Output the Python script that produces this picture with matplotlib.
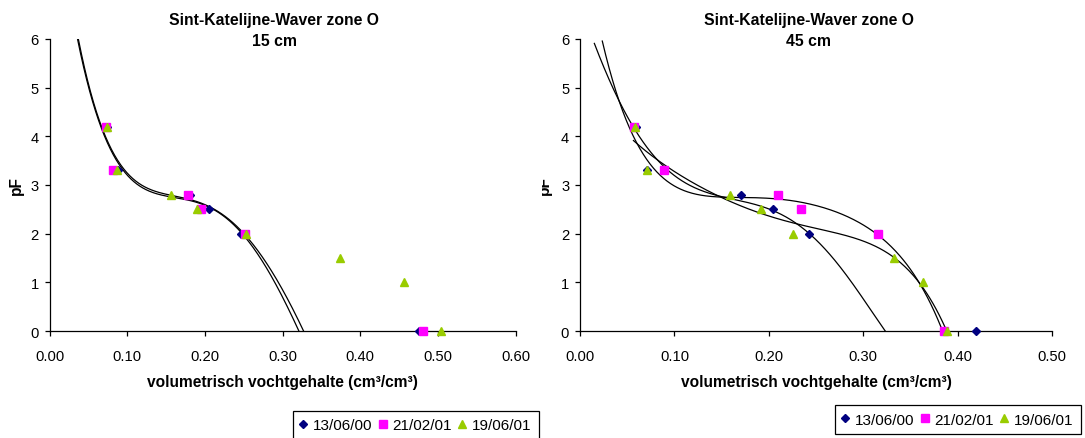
import numpy as np
import matplotlib.pyplot as plt
from matplotlib.transforms import Bbox

plt.rcParams['font.family'] = ['Liberation Sans', 'DejaVu Sans']

# meetdata pF-curves, Sint-Katelijne-Waver zone O
dates = ['13/06/00', '21/02/01', '19/06/01']
colors = ['#000080', '#FF00FF', '#99CC00']
markers = ['D', 's', '^']
msizes = [4.5, 5.3, 6.3]

pf_6 = [4.2, 3.3, 2.8, 2.5, 2.0, 0.0]
pf_8 = [4.2, 3.3, 2.8, 2.5, 2.0, 1.5, 1.0, 0.0]

# 15 cm
theta_15_a = [0.074, 0.088, 0.181, 0.205, 0.246, 0.475]
theta_15_b = [0.072, 0.082, 0.178, 0.195, 0.252, 0.481]
theta_15_c = [0.074, 0.087, 0.156, 0.190, 0.253, 0.374, 0.456, 0.504]

# 45 cm
theta_45_a = [0.059, 0.071, 0.171, 0.204, 0.243, 0.419]
theta_45_b = [0.057, 0.089, 0.210, 0.234, 0.316, 0.385]
theta_45_c = [0.058, 0.071, 0.159, 0.192, 0.226, 0.332, 0.363, 0.389]

trend_15_a_x = [0.036, 0.056, 0.073, 0.095, 0.116, 0.155, 0.194, 0.219, 0.249, 0.275, 0.296, 0.321]
trend_15_a_y = [6.0, 4.63, 3.95, 3.29, 2.98, 2.76, 2.60, 2.42, 2.0, 1.40, 0.80, 0.0]
trend_15_b_x = [0.037, 0.057, 0.074, 0.097, 0.118, 0.155, 0.194, 0.220, 0.251, 0.279, 0.301, 0.327]
trend_15_b_y = [6.0, 4.63, 3.95, 3.29, 3.0, 2.80, 2.62, 2.42, 2.0, 1.40, 0.80, 0.0]

trend_45_a_x = [0.0152, 0.0205, 0.040, 0.058, 0.083, 0.1145, 0.140, 0.163, 0.198, 0.226, 0.243, 0.2686, 0.297, 0.3234]
trend_45_a_y = [6.0, 5.52, 4.82, 4.15, 3.47, 3.05, 2.80, 2.68, 2.52, 2.27, 2.0, 1.48, 0.73, 0.0]
trend_45_b_x = [0.0236, 0.0283, 0.040, 0.055, 0.069, 0.094, 0.127, 0.160, 0.191, 0.244, 0.279, 0.3164, 0.3428, 0.3606, 0.378, 0.3835]
trend_45_b_y = [6.0, 5.52, 4.82, 4.15, 3.47, 3.05, 2.85, 2.76, 2.68, 2.61, 2.40, 1.99, 1.41, 0.93, 0.32, 0.0]
trend_45_c_x = [0.0566, 0.087, 0.124, 0.145, 0.163, 0.198, 0.262, 0.3075, 0.332, 0.3535, 0.3677, 0.3818, 0.387]
trend_45_c_y = [3.91, 3.45, 3.02, 2.78, 2.60, 2.38, 2.10, 1.75, 1.49, 1.14, 0.79, 0.32, 0.0]

W, H = 1085, 439


def draw_panel(rect, series, trends, xmax, depth, title_x):
    ax = fig.add_axes([rect[0] / W, 1 - rect[3] / H, (rect[2] - rect[0]) / W, (rect[3] - rect[1]) / H])
    for (tx, ty) in trends:
        p = np.polynomial.Polynomial.fit(tx, ty, 5)
        xs = np.linspace(tx[0], tx[-1], 300)
        ax.plot(xs, p(xs), color='black', lw=0.9, zorder=2)
    handles = []
    for i, (th, pf) in enumerate(series):
        h, = ax.plot(th, pf, linestyle='none', marker=markers[i], ms=msizes[i],
                     color=colors[i], mec=colors[i], zorder=3 + i, clip_on=False)
        handles.append(h)
    ax.set_xlim(0, xmax)
    ax.set_ylim(0, 6)
    ax.set_xticks(np.arange(0, xmax + 0.001, 0.1))
    ax.set_xticklabels(['%.2f' % v for v in np.arange(0, xmax + 0.001, 0.1)])
    ax.set_yticks(range(7))
    for s in ['top', 'right']:
        ax.spines[s].set_visible(False)
    for s in ['left', 'bottom']:
        ax.spines[s].set_linewidth(0.9)
    ax.tick_params(axis='both', direction='out', length=3.3, width=0.9, labelsize=10.6)
    ax.tick_params(axis='x', pad=9.5)
    ax.tick_params(axis='y', pad=4.5)
    ax.set_xlabel('volumetrisch vochtgehalte (cm³/cm³)', fontsize=11.2, fontweight='bold', labelpad=8)
    fig.text(title_x / W, 1 - 20 / H, 'Sint-Katelijne-Waver zone O', ha='center', va='center',
             fontsize=11.3, fontweight='bold')
    fig.text(title_x / W, 1 - 42 / H, depth, ha='center', va='center', fontsize=11.3, fontweight='bold')
    return ax, handles


fig = plt.figure(figsize=(W / 100, H / 100), dpi=100)

ax1, h1 = draw_panel((49.7, 40, 515.7, 332),
                     [(theta_15_a, pf_6), (theta_15_b, pf_6), (theta_15_c, pf_8)],
                     [(trend_15_a_x, trend_15_a_y), (trend_15_b_x, trend_15_b_y)],
                     0.6, '15 cm', 274)
ax2, h2 = draw_panel((580, 40, 1052.2, 332),
                     [(theta_45_a, pf_6), (theta_45_b, pf_6), (theta_45_c, pf_8)],
                     [(trend_45_a_x, trend_45_a_y), (trend_45_b_x, trend_45_b_y), (trend_45_c_x, trend_45_c_y)],
                     0.5, '45 cm', 809)

# y-as titels
fig.text(16 / W, 1 - 186 / H, 'pF', rotation=90, ha='center', va='center', fontsize=11.2, fontweight='bold')
pf2 = fig.text(544 / W, 1 - 186 / H, 'pF', rotation=90, ha='center', va='center', fontsize=11.2, fontweight='bold')
pf2.set_clip_box(Bbox.from_extents(541.5, 0, W, H))
pf2.set_clip_on(True)

legend_kw = dict(loc='upper left', ncol=3, fontsize=11, frameon=True, fancybox=False,
                 edgecolor='black', borderpad=0.5, handlelength=0.4, handletextpad=0.45,
                 columnspacing=0.45, borderaxespad=0)
lg1 = fig.legend(h1, dates, bbox_to_anchor=(292.7 / W, 1 - 411.7 / H), **legend_kw)
lg2 = fig.legend(h2, dates, bbox_to_anchor=(834.5 / W, 1 - 406 / H), **legend_kw)
for lg in (lg1, lg2):
    lg.get_frame().set_linewidth(0.9)
    lg.get_frame().set_alpha(None)

fig.savefig('out.png', dpi=100)
